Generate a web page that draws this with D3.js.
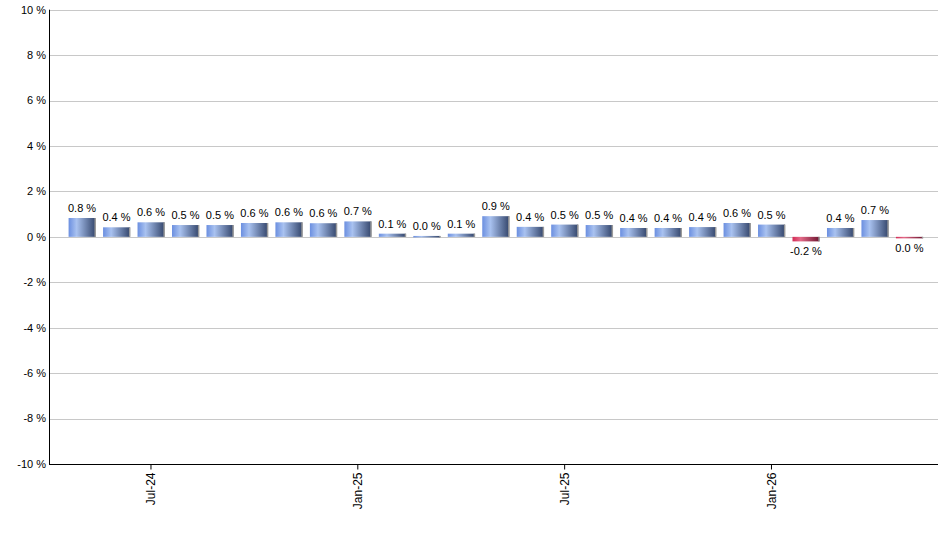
<!DOCTYPE html>
<html>
<head>
<meta charset="utf-8">
<script src="https://cdn.jsdelivr.net/npm/d3@7"></script>
<style>
  body { margin: 0; background: #fff; }
  svg { display: block; font-family: "Liberation Sans", Arial, sans-serif; }
  .grid line { stroke: #c8c8c8; }
  .vlabel { font-size: 11px; fill: #000; text-anchor: middle; }
</style>
</head>
<body>
<svg id="chart" width="940" height="550"></svg>
<script>
// Monthly change, in percent
var months = ['May-24', 'Jun-24', 'Jul-24', 'Aug-24', 'Sep-24', 'Oct-24', 'Nov-24', 'Dec-24',
              'Jan-25', 'Feb-25', 'Mar-25', 'Apr-25', 'May-25', 'Jun-25', 'Jul-25', 'Aug-25',
              'Sep-25', 'Oct-25', 'Nov-25', 'Dec-25', 'Jan-26', 'Feb-26', 'Mar-26', 'Apr-26', 'May-26'];
var changes = [0.83, 0.42, 0.64, 0.52, 0.52, 0.61, 0.64, 0.6, 0.68, 0.14, 0.04, 0.14, 0.91,
               0.44, 0.54, 0.52, 0.39, 0.39, 0.43, 0.61, 0.54, -0.2, 0.39, 0.74, -0.04];
var tickMonths = ['Jul-24', 'Jan-25', 'Jul-25', 'Jan-26'];
var yTicks = [-10, -8, -6, -4, -2, 0, 2, 4, 6, 8, 10];

var svg = d3.select('#chart');
var plotLeft = 49, plotRight = 938, plotTop = 9.7, plotBottom = 464;

var x = d3.scaleBand()
	.domain(months)
	.range([64.8, 926.6])
	.paddingInner(0.22)
	.paddingOuter(0.11);

var y = d3.scaleLinear()
	.domain([-10, 10])
	.range([plotBottom, plotTop]);

// Bar gradients
var defs = svg.append('defs');
function addGradient(id, c0, c1, c2) {
	var g = defs.append('linearGradient').attr('id', id)
		.attr('x1', '0%').attr('x2', '100%').attr('y1', '0%').attr('y2', '0%');
	g.append('stop').attr('offset', '0%').attr('stop-color', c0);
	g.append('stop').attr('offset', '30%').attr('stop-color', c1);
	g.append('stop').attr('offset', '100%').attr('stop-color', c2);
};
addGradient('gradUp', '#6b8fe0', '#a9c2f0', '#34466c');
addGradient('gradDown', '#d42a55', '#e36a88', '#6e1530');

// Grid lines
svg.append('g').attr('class', 'grid')
	.selectAll('line')
	.data(yTicks.filter(function(d) { return d > -10; }))
	.enter().append('line')
	.attr('x1', plotLeft).attr('x2', plotRight)
	.attr('y1', function(d) { return Math.round(y(d)) + 0.5; })
	.attr('y2', function(d) { return Math.round(y(d)) + 0.5; });

// Y labels
svg.append('g')
	.selectAll('text')
	.data(yTicks)
	.enter().append('text')
	.attr('x', plotLeft - 3)
	.attr('y', function(d) { return y(d); })
	.attr('dy', '0.35em')
	.attr('text-anchor', 'end')
	.style('font-size', '11px')
	.text(function(d) { return d + ' %'; });

// Bars
var bars = svg.append('g').selectAll('g')
	.data(changes)
	.enter().append('g');

bars.append('rect')
	.attr('x', function(d, i) { return x(months[i]); })
	.attr('width', x.bandwidth())
	.attr('y', function(d) { return d >= 0 ? y(d) : y(0); })
	.attr('height', function(d) { return Math.max(1.5, Math.abs(y(d) - y(0))); })
	.style('fill', function(d) { return d >= 0 ? 'url(#gradUp)' : 'url(#gradDown)'; });

// right edge shading
bars.append('rect')
	.attr('x', function(d, i) { return x(months[i]) + x.bandwidth() - 1; })
	.attr('width', 1.5)
	.attr('y', function(d) { return d >= 0 ? y(d) : y(0); })
	.attr('height', function(d) { return Math.max(1.5, Math.abs(y(d) - y(0))); })
	.style('fill', '#9a9a9a');

// Value labels
bars.append('text')
	.attr('class', 'vlabel')
	.attr('x', function(d, i) { return x(months[i]) + x.bandwidth() / 2; })
	.attr('y', function(d) { return d >= 0 ? y(d) - 6 : y(d) + 14; })
	.text(function(d) {
		var v = Math.round(d * 10) / 10;
		return (v === 0 ? '0.0' : v.toFixed(1)) + ' %';
	});

// Axes lines
svg.append('line')
	.attr('x1', plotLeft + 0.5).attr('x2', plotLeft + 0.5)
	.attr('y1', plotTop).attr('y2', plotBottom + 1)
	.style('stroke', '#000');

var xAxis = svg.append('g')
	.attr('transform', 'translate(0,' + (plotBottom + 0.5) + ')')
	.call(d3.axisBottom(x).tickValues(tickMonths).tickSize(5).tickSizeOuter(0));

xAxis.select('.domain').attr('d', 'M' + plotLeft + ',0H' + plotRight).style('stroke', '#000');
xAxis.selectAll('.tick line').style('stroke', '#000');
xAxis.selectAll('.tick text')
	.style('font-family', '"Liberation Sans", Arial, sans-serif')
	.style('font-size', '12px')
	.attr('text-anchor', 'end')
	.attr('transform', 'rotate(-90)')
	.attr('x', -8)
	.attr('y', 0)
	.attr('dy', '0.35em');
</script>
</body>
</html>
